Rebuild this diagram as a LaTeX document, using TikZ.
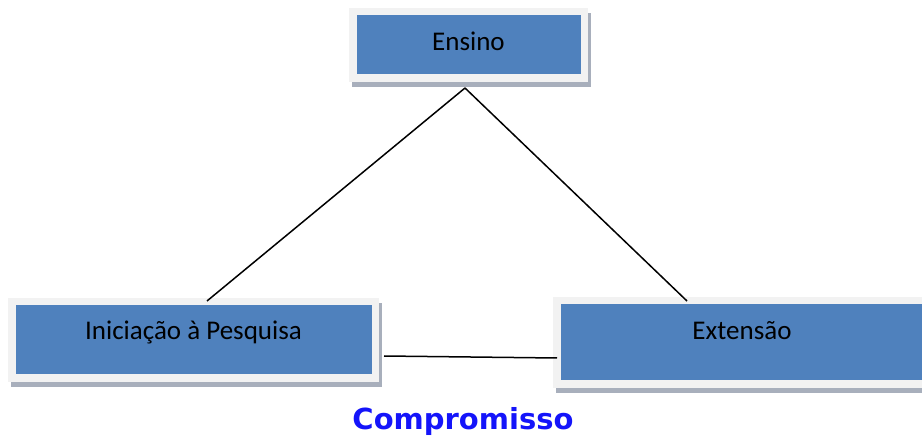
\documentclass[tikz,border=0pt]{standalone}
\usepackage{fontspec}
\setmainfont{Carlito}
\newfontfamily\titulofonte{DejaVu Sans}
\definecolor{caixa}{RGB}{79,129,189}
\definecolor{moldura}{RGB}{242,242,242}
\definecolor{sombra}{RGB}{168,175,188}
\definecolor{azulforte}{RGB}{20,20,250}
\tikzset{
  bloco/.style={draw=moldura, line width=7.5pt, fill=caixa, inner sep=0pt,
    preaction={draw=sombra, fill=sombra, line width=7.5pt,
      transform canvas={xshift=3pt, yshift=-5pt}},
    font=\fontsize{27}{32}\selectfont},
  ligacao/.style={line width=1.5pt, black}
}
\begin{document}
\begin{tikzpicture}[x=1pt,y=-1pt]
    \useasboundingbox (0,0) rectangle (922,438);

    % Caixas
    \node[bloco, minimum width=231.5pt, minimum height=66.5pt,
      text height=17pt, text depth=6pt] (ens) at (468.5,45) {Ensino};
    \node[bloco, minimum width=363.5pt, minimum height=76.5pt,
      text height=20pt, text depth=21pt] (ini) at (193.5,340) {Iniciação à Pesquisa};
    \node[bloco, minimum width=370.5pt, minimum height=83.5pt,
      text height=20pt, text depth=26pt] (ext) at (742,342.5) {Extensão};

    % Ligações
    \draw[ligacao] ([xshift=-3.5pt,yshift=-6pt]ens.south) -- ([xshift=13.5pt,yshift=-3pt]ini.north);
    \draw[ligacao] ([xshift=-3.5pt,yshift=-6pt]ens.south) -- ([xshift=-55pt,yshift=-4pt]ext.north);
    \draw[ligacao] ([xshift=5pt,yshift=-16pt]ini.east) -- ([xshift=4pt,yshift=-15.5pt]ext.west);

    % Legenda
    \node[anchor=base, text=azulforte, font=\titulofonte\bfseries\fontsize{29}{32}\selectfont]
      (comp) at (463,430) {Compromisso};
\end{tikzpicture}
\end{document}
